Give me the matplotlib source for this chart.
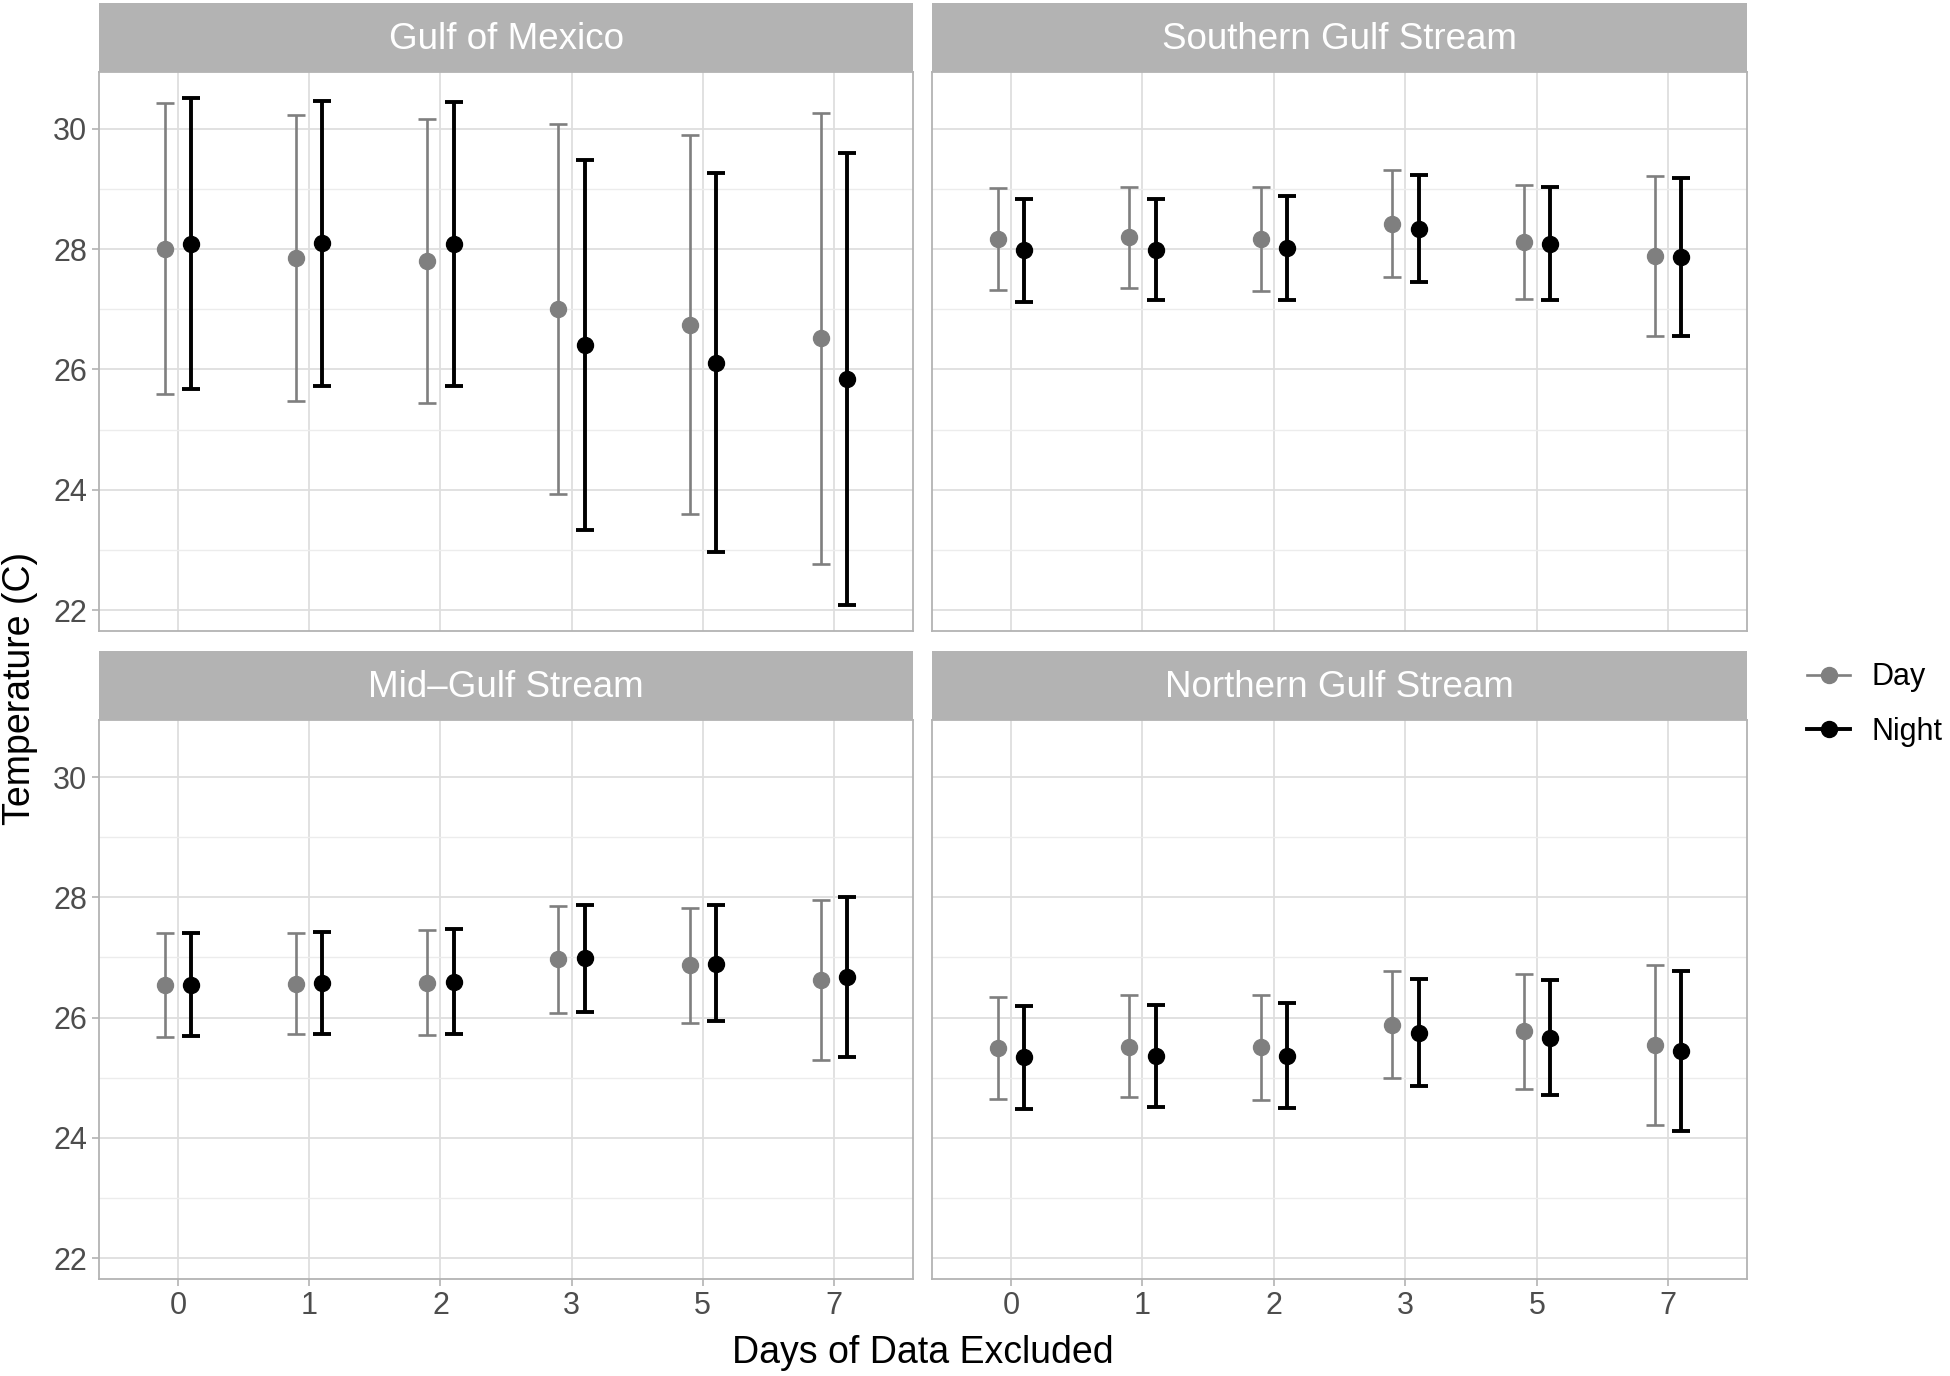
import matplotlib
matplotlib.use("Agg")
import matplotlib.pyplot as plt
from matplotlib.lines import Line2D

plt.rcParams["font.family"] = ["Liberation Sans", "DejaVu Sans"]

days = ["0", "1", "2", "3", "5", "7"]
regions = ["Gulf of Mexico", "Southern Gulf Stream", "Mid\u2013Gulf Stream", "Northern Gulf Stream"]

# mean, lower, upper for each region
day_mean = {
    "Gulf of Mexico": [28.01, 27.85, 27.80, 27.00, 26.74, 26.52],
    "Southern Gulf Stream": [28.17, 28.20, 28.17, 28.42, 28.12, 27.89],
    "Mid\u2013Gulf Stream": [26.54, 26.56, 26.57, 26.97, 26.87, 26.63],
    "Northern Gulf Stream": [25.49, 25.52, 25.51, 25.87, 25.77, 25.54],
}
day_low = {
    "Gulf of Mexico": [25.60, 25.48, 25.44, 23.93, 23.59, 22.76],
    "Southern Gulf Stream": [27.32, 27.36, 27.31, 27.54, 27.17, 26.56],
    "Mid\u2013Gulf Stream": [25.68, 25.72, 25.71, 26.07, 25.91, 25.30],
    "Northern Gulf Stream": [24.64, 24.68, 24.63, 24.99, 24.82, 24.21],
}
day_high = {
    "Gulf of Mexico": [30.43, 30.23, 30.17, 30.08, 29.90, 30.26],
    "Southern Gulf Stream": [29.01, 29.04, 29.04, 29.31, 29.07, 29.21],
    "Mid\u2013Gulf Stream": [27.40, 27.41, 27.45, 27.86, 27.82, 27.96],
    "Northern Gulf Stream": [26.35, 26.37, 26.38, 26.77, 26.73, 26.88],
}
night_mean = {
    "Gulf of Mexico": [28.09, 28.10, 28.09, 26.40, 26.10, 25.84],
    "Southern Gulf Stream": [27.98, 27.99, 28.02, 28.34, 28.09, 27.87],
    "Mid\u2013Gulf Stream": [26.55, 26.57, 26.59, 26.99, 26.90, 26.67],
    "Northern Gulf Stream": [25.34, 25.37, 25.37, 25.75, 25.66, 25.44],
}
night_low = {
    "Gulf of Mexico": [25.68, 25.73, 25.73, 23.34, 22.97, 22.08],
    "Southern Gulf Stream": [27.12, 27.15, 27.15, 27.46, 27.15, 26.55],
    "Mid\u2013Gulf Stream": [25.70, 25.73, 25.72, 26.10, 25.94, 25.34],
    "Northern Gulf Stream": [24.48, 24.52, 24.49, 24.87, 24.71, 24.12],
}
night_high = {
    "Gulf of Mexico": [30.52, 30.47, 30.45, 29.48, 29.27, 29.59],
    "Southern Gulf Stream": [28.83, 28.83, 28.89, 29.23, 29.04, 29.19],
    "Mid\u2013Gulf Stream": [27.41, 27.43, 27.48, 27.88, 27.87, 28.01],
    "Northern Gulf Stream": [26.19, 26.21, 26.24, 26.64, 26.62, 26.77],
}

DAY_COL = "#7f7f7f"
NIGHT_COL = "#000000"
BORDER = "#b3b3b3"
GRID = "#dedede"

fig = plt.figure(figsize=(19.5, 13.76), dpi=100)

# panel boxes (left, bottom, width, height) in figure fractions
cols = [(0.051, 0.417), (0.478, 0.418)]
rows = [(0.5417, 0.4058, 0.9475, 0.0505), (0.0707, 0.4057, 0.4764, 0.0506)]

x = list(range(len(days)))


def draw_bars(ax, means, lows, highs, offset, color, lw):
    xs = [i + offset for i in x]
    yerr = [[m - l for m, l in zip(means, lows)], [h - m for m, h in zip(means, highs)]]
    ax.errorbar(xs, means, yerr=yerr, fmt="o", color=color, ecolor=color,
                elinewidth=lw, capsize=6.5, capthick=lw, markersize=11.5, zorder=3)


for k, reg in enumerate(regions):
    r, c = divmod(k, 2)
    left, width = cols[c]
    bottom, height, strip_bottom, strip_h = rows[r]
    ax = fig.add_axes([left, bottom, width, height])

    draw_bars(ax, day_mean[reg], day_low[reg], day_high[reg], -0.1, DAY_COL, 1.9)
    draw_bars(ax, night_mean[reg], night_low[reg], night_high[reg], 0.1, NIGHT_COL, 2.8)

    ax.set_xlim(-0.6, len(days) - 0.4)
    ax.set_ylim(21.66, 30.94)
    ax.set_yticks([22, 24, 26, 28, 30])
    ax.set_yticks([23, 25, 27, 29], minor=True)
    ax.set_xticks(x)
    ax.grid(True, which="major", color=GRID, linewidth=1.3, zorder=0)
    ax.grid(True, which="minor", axis="y", color="#ececec", linewidth=1.0, zorder=0)
    ax.set_axisbelow(True)
    for s in ax.spines.values():
        s.set_color(BORDER)
        s.set_linewidth(1.3)
    ax.tick_params(which="minor", length=0)
    ax.tick_params(which="major", length=5, color=BORDER, width=1.2,
                   labelsize=22, labelcolor="#4d4d4d", pad=4)
    if c == 0:
        ax.set_yticklabels(["22", "24", "26", "28", "30"])
    else:
        ax.set_yticklabels([])
        ax.tick_params(axis="y", length=0)
    if r == 1:
        ax.set_xticklabels(days)
    else:
        ax.set_xticklabels([])
        ax.tick_params(axis="x", length=0)

    sax = fig.add_axes([left, strip_bottom, width, strip_h])
    sax.set_facecolor(BORDER)
    sax.set_xticks([])
    sax.set_yticks([])
    for s in sax.spines.values():
        s.set_visible(False)
    sax.text(0.5, 0.47, reg, ha="center", va="center", color="white", fontsize=26.5,
             transform=sax.transAxes)

fig.text(0.0105, 0.5, "Temperature (C)", rotation=90, ha="center", va="center", fontsize=27)
fig.text(0.473, 0.017, "Days of Data Excluded", ha="center", va="center", fontsize=27)

handles = [
    Line2D([0], [0], color=DAY_COL, marker="o", markersize=11.5, linewidth=1.9),
    Line2D([0], [0], color=NIGHT_COL, marker="o", markersize=11.5, linewidth=2.8),
]
fig.legend(handles, ["Day", "Night"], loc="center left", bbox_to_anchor=(0.9205, 0.488),
           frameon=False, fontsize=22, handlelength=1.4, labelspacing=0.8,
           handletextpad=0.7, borderaxespad=0.0)

fig.savefig("out.png", dpi=100)
